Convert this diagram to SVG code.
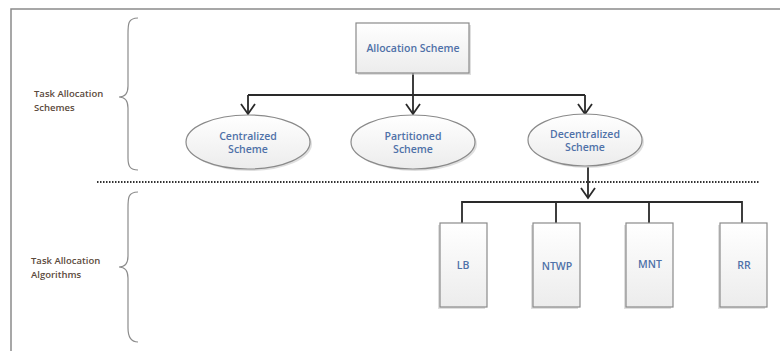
<svg xmlns="http://www.w3.org/2000/svg" width="780" height="351" viewBox="0 0 780 351">
<style>
.frame{stroke:#8a8a8a;stroke-width:1.5;fill:none}
.brace{stroke:#8c8c8c;stroke-width:1.2;fill:none}
.side{font-family:"Open Sans","Liberation Sans",sans-serif;font-size:9.5px;fill:#5b4a3c;font-weight:600}
.lbl{font-family:"Open Sans","Liberation Sans",sans-serif;font-size:10.5px;fill:#4f71a8;text-anchor:middle;font-weight:600}
.node{fill:url(#g);stroke:#8a8a8a;stroke-width:1.2}
.shadow{fill:#c4c4c4;opacity:0.55}
.conn{stroke:#2a2a2a;stroke-width:1.8;fill:none}
.head{stroke:#2a2a2a;stroke-width:1.8;fill:none;stroke-linejoin:miter}
.dots{stroke:#333;stroke-width:1.8;stroke-dasharray:1.5 1.5;fill:none}
</style>
<defs>
<linearGradient id="g" x1="0" y1="0" x2="0" y2="1">
<stop offset="0" stop-color="#ffffff"/>
<stop offset="1" stop-color="#ececec"/>
</linearGradient>
<path id="v" class="head" d="M-7,-10 L0,0 L7,-10"/>
</defs>
<rect width="780" height="351" fill="#fff"/>
<path class="frame" d="M11,351 V9 H780"/>
<path class="brace" d="M138,18 C128,18 128,24 128,34 V86 C128,94 124,97 119,97 C124,97 128,100 128,108 V158 C128,166 130,170 138,170"/>
<path class="brace" d="M138,192 C128,192 128,198 128,208 V256 C128,264 124,267 119,267 C124,267 128,270 128,278 V328 C128,336 130,342 138,342"/>
<text class="side" x="34" y="97">Task  Allocation</text>
<text class="side" x="34" y="111">Schemes</text>
<text class="side" x="31" y="264">Task Allocation</text>
<text class="side" x="31" y="278">Algorithms</text>
<path class="dots" d="M97,182 H760"/>
<g id="connectors">
<path class="conn" d="M413,73 V95 M248,95 H585 M248,95 V113 M413,95 V113 M585,95 V113"/>
<use href="#v" x="248" y="114"/>
<use href="#v" x="413" y="114"/>
<use href="#v" x="585" y="114"/>
<path class="conn" d="M588,167 V197"/>
<use href="#v" x="588" y="198"/>
<path class="conn" d="M462,202 H742 M462,201 V223 M556,201 V223 M649,201 V223 M742,201 V223"/>
</g>
<g id="allocation">
<rect class="shadow" x="358" y="25" width="113" height="50"/>
<rect class="node" x="356" y="23" width="113" height="50"/>
<text class="lbl" x="413" y="52">Allocation Scheme</text>
</g>
<g id="centralized">
<ellipse class="shadow" cx="250" cy="144" rx="62" ry="27"/>
<ellipse class="node" cx="248" cy="142" rx="62" ry="27"/>
<text class="lbl" x="248" y="140">Centralized</text>
<text class="lbl" x="248" y="153">Scheme</text>
</g>
<g id="partitioned">
<ellipse class="shadow" cx="415" cy="144" rx="62" ry="27"/>
<ellipse class="node" cx="413" cy="142" rx="62" ry="27"/>
<text class="lbl" x="413" y="140">Partitioned</text>
<text class="lbl" x="413" y="153">Scheme</text>
</g>
<g id="decentralized">
<ellipse class="shadow" cx="587" cy="142" rx="57" ry="26"/>
<ellipse class="node" cx="585" cy="140" rx="57" ry="26"/>
<text class="lbl" x="585" y="138">Decentralized</text>
<text class="lbl" x="585" y="151">Scheme</text>
</g>
<g id="lb">
<rect class="shadow" x="438" y="225" width="47" height="84"/>
<rect class="node" x="440" y="223" width="47" height="84"/>
<text class="lbl" x="463" y="269">LB</text>
</g>
<g id="ntwp">
<rect class="shadow" x="531" y="225" width="47" height="84"/>
<rect class="node" x="533" y="223" width="47" height="84"/>
<text class="lbl" x="557" y="270">NTWP</text>
</g>
<g id="mnt">
<rect class="shadow" x="624" y="225" width="47" height="84"/>
<rect class="node" x="626" y="223" width="47" height="84"/>
<text class="lbl" x="650" y="268">MNT</text>
</g>
<g id="rr">
<rect class="shadow" x="718" y="225" width="47" height="84"/>
<rect class="node" x="720" y="223" width="47" height="84"/>
<text class="lbl" x="744" y="269">RR</text>
</g>
</svg>
